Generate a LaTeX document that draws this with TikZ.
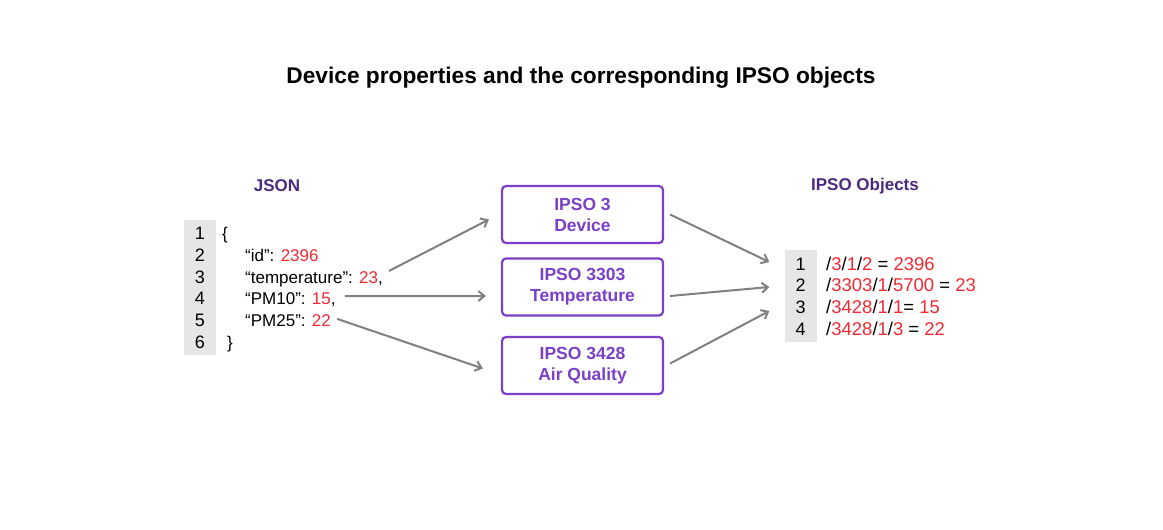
\documentclass[tikz,border=0pt]{standalone}
\usepackage{fontspec}
\setmainfont{Liberation Sans}
\usetikzlibrary{arrows.meta,positioning}
\definecolor{ipsopurple}{HTML}{7B3FC8}
\definecolor{headpurple}{HTML}{4A2A7E}
\definecolor{numred}{HTML}{EE2A33}
\definecolor{linegray}{HTML}{E6E6E6}
\definecolor{arrowgray}{HTML}{808080}
\newcommand{\rd}[1]{\textcolor{numred}{#1}}

\begin{document}
\begin{tikzpicture}[x=1pt,y=-1pt,
  >={Straight Barb[length=6pt,width=10pt]},
  every node/.style={font=\fontsize{17}{20}\selectfont,inner sep=0pt},
  heading/.style={font=\fontsize{17}{20}\selectfont\bfseries,text=headpurple},
  ipsobox/.style={draw=ipsopurple,line width=2.2pt,rounded corners=4pt,align=center,
    minimum width=161,minimum height=57,text=ipsopurple,
    font=\fontsize{17.5}{21}\selectfont\bfseries},
  numcol/.style={fill=linegray,minimum width=32},
  codeline/.style={anchor=base west},
  pathline/.style={anchor=base west,font=\fontsize{18.5}{20}\selectfont},
  flow/.style={->,draw=arrowgray,line width=2pt}]
 \fill[white] (0,0) rectangle (1163,530);
 \useasboundingbox (0,0) rectangle (1163,530);
 \node[font=\fontsize{22.7}{26}\selectfont\bfseries] (title) at (581,78)
   {Device properties and the corresponding IPSO objects};
 \node[heading] (json) at (277,186) {JSON};
 \node[heading] (objs) at (865,186) {IPSO Objects};
 % JSON listing
 \node[numcol,minimum height=135] (jsonnums) at (200,287.5) {};
 \foreach \i in {1,...,6}
   \node[anchor=base,font=\fontsize{18}{20}\selectfont] (jn\i) at (200,239.5+21.8*\i-21.8) {\i};
 \node[codeline] (ln1) at (222,239.5) {\{};
 \node[codeline] (ln2) at (245,261.3) {“id”: \rd{2396}};
 \node[codeline] (ln3) at (245,283.1) {“temperature”: \rd{23},};
 \node[codeline] (ln4) at (245,304.9) {“PM10”: \rd{15},};
 \node[codeline] (ln5) at (245,326.7) {“PM25”: \rd{22}};
 \node[codeline] (ln6) at (227,348.5) {\}};
 % IPSO objects
 \node[ipsobox] (dev) at (582.5,214.5) {IPSO 3\\Device};
 \node[ipsobox] (temp) at (582.5,287) {IPSO 3303\\Temperature};
 \node[ipsobox] (air) at (582.5,365.5) {IPSO 3428\\Air Quality};
 % resource paths
 \node[numcol,minimum height=92] (pathnums) at (800.5,296) {};
 \foreach \i in {1,...,4}
   \node[anchor=base,font=\fontsize{18}{20}\selectfont] (pn\i) at (800.5,270+21.7*\i-21.7) {\i};
 \node[pathline] (p1) at (826,270) {/\rd{3}/\rd{1}/\rd{2} = \rd{2396}};
 \node[pathline] (p2) at (826,291.7) {/\rd{3303}/\rd{1}/\rd{5700} = \rd{23}};
 \node[pathline] (p3) at (826,313.4) {/\rd{3428}/\rd{1}/\rd{1}= \rd{15}};
 \node[pathline] (p4) at (826,335.1) {/\rd{3428}/\rd{1}/\rd{3} = \rd{22}};
 \draw[flow] ([xshift=6pt,yshift=8pt]ln3.east) -- ([xshift=-12pt,yshift=-5pt]dev.west);
 \draw[flow] ([xshift=9pt,yshift=4pt]ln4.east) -- ([xshift=-15pt,yshift=-9pt]temp.west);
 \draw[flow] ([xshift=6pt,yshift=2pt]ln5.east) -- ([xshift=-18pt,yshift=-3pt]air.west);
 \draw[flow] ([xshift=6pt,yshift=0pt]dev.east) -- ([xshift=-15pt,yshift=34pt]pathnums.west);
 \draw[flow] ([xshift=6pt,yshift=-9pt]temp.east) -- ([xshift=-15pt,yshift=9pt]pathnums.west);
 \draw[flow] ([xshift=6pt,yshift=2pt]air.east) -- ([xshift=-15pt,yshift=-15pt]pathnums.west);
\end{tikzpicture}
\end{document}
